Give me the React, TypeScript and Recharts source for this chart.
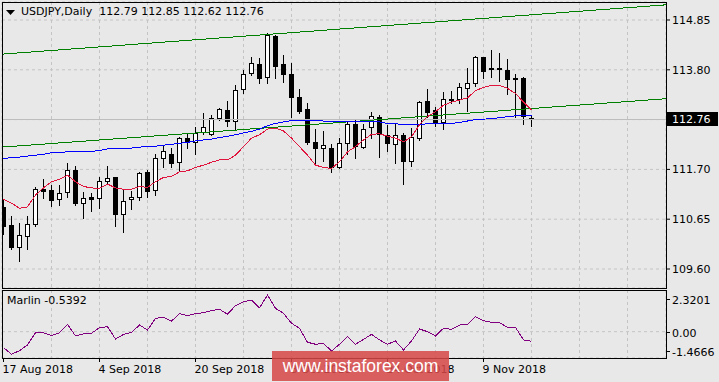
import React from 'react'
import { ComposedChart, Bar, Line, XAxis, YAxis, CartesianGrid, ReferenceLine } from 'recharts'

// USDJPY daily candles, 17 Aug 2018 .. 19 Nov 2018 (bar index 0..66)
const opens = [
  110.91, 110.53, 110.06, 110.3, 110.55, 111.29, 111.27, 111.08, 111.22, 111.69,
  110.99, 111.12, 111.1, 111.46, 111.54, 110.76, 111.08, 111.12, 111.65, 111.27,
  111.94, 112.02, 111.86, 112.36, 112.28, 112.49, 112.45, 112.78, 112.95, 112.72,
  113.4, 113.73, 113.92, 113.65, 114.51, 113.92, 113.71, 113.23, 112.97, 112.28,
  112.15, 112.15, 111.75, 112.26, 112.66, 112.17, 112.59, 112.8, 112.43, 112.24,
  112.43, 111.88, 112.36, 113.14, 112.95, 112.7, 113.18, 113.18, 113.42, 113.52,
  114.07, 113.84, 113.84, 113.8, 113.63, 113.63, 112.79,
]
const highs = [
  111.06, 110.72, 110.57, 110.72, 111.33, 111.5, 111.37, 111.37, 111.84, 111.77,
  111.22, 111.2, 111.54, 111.77, 111.55, 111.29, 111.25, 111.65, 111.69, 112.02,
  112.21, 112.15, 112.38, 112.45, 112.59, 112.89, 112.85, 112.99, 113.14, 113.48,
  113.8, 114.07, 114.05, 114.58, 114.53, 114.11, 113.94, 113.4, 113.1, 112.55,
  112.51, 112.24, 112.36, 112.7, 112.74, 112.66, 112.91, 112.85, 112.64, 112.68,
  112.47, 112.57, 113.14, 113.4, 113.02, 113.33, 113.35, 113.52, 113.84, 114.09,
  114.08, 114.22, 114.15, 114.03, 113.71, 113.64, 112.85,
]
const lows = [
  110.34, 110.02, 109.77, 110.02, 110.51, 111.1, 110.93, 110.95, 111.12, 110.95,
  110.68, 110.82, 110.89, 111.39, 110.51, 110.38, 110.87, 111.06, 111.12, 111.16,
  111.75, 111.75, 111.67, 112.15, 112.02, 112.45, 112.43, 112.74, 112.62, 112.55,
  113.31, 113.69, 113.52, 113.52, 113.63, 113.54, 112.8, 112.89, 112.24, 111.84,
  111.88, 111.65, 111.73, 112.02, 111.94, 112.15, 112.36, 111.96, 112.09, 111.84,
  111.39, 111.77, 112.32, 112.8, 112.62, 112.55, 113.1, 113.1, 112.93, 113.46,
  113.63, 113.65, 113.56, 113.29, 112.8, 112.66, 112.62,
]
const closes = [
  110.51, 110.06, 110.32, 110.55, 111.29, 111.25, 111.06, 111.2, 111.69, 110.99,
  111.1, 111.08, 111.46, 111.52, 110.76, 111.03, 111.12, 111.62, 111.25, 111.94,
  112.09, 111.84, 112.36, 112.28, 112.47, 112.59, 112.78, 112.97, 112.72, 113.37,
  113.71, 113.94, 113.63, 114.53, 113.88, 113.71, 113.23, 112.93, 112.28, 112.15,
  112.21, 111.75, 112.26, 112.66, 112.19, 112.55, 112.83, 112.45, 112.26, 112.43,
  111.88, 112.38, 113.12, 112.91, 112.7, 113.18, 113.16, 113.44, 113.52, 114.07,
  113.77, 113.82, 113.82, 113.61, 113.61, 112.83, 112.76,
]
// red moving average
const fastMA = [
  111.07, 110.99, 110.88, 110.91, 111.16, 111.31, 111.44, 111.49, 111.58, 111.44,
  111.34, 111.31, 111.3, 111.39, 111.31, 111.28, 111.28, 111.34, 111.32, 111.44,
  111.53, 111.55, 111.65, 111.67, 111.74, 111.79, 111.85, 111.9, 111.9, 112.0,
  112.18, 112.36, 112.43, 112.55, 112.57, 112.51, 112.36, 112.18, 112.0, 111.79,
  111.74, 111.72, 111.86, 112.07, 112.18, 112.32, 112.44, 112.45, 112.4, 112.36,
  112.28, 112.39, 112.64, 112.81, 112.92, 113.05, 113.12, 113.16, 113.21, 113.36,
  113.43, 113.47, 113.47, 113.41, 113.3, 113.12, 112.95,
]
// blue moving average
const slowMA = [
  111.93, 111.95, 111.96, 111.98, 112.0, 112.02, 112.05, 112.06, 112.07, 112.08,
  112.08, 112.08, 112.1, 112.13, 112.14, 112.15, 112.15, 112.17, 112.18, 112.19,
  112.21, 112.23, 112.25, 112.27, 112.3, 112.32, 112.34, 112.37, 112.4, 112.43,
  112.47, 112.5, 112.55, 112.62, 112.67, 112.7, 112.73, 112.73, 112.73, 112.73,
  112.72, 112.72, 112.72, 112.71, 112.71, 112.71, 112.71, 112.7, 112.67, 112.66,
  112.65, 112.64, 112.65, 112.66, 112.66, 112.66, 112.67, 112.69, 112.72, 112.75,
  112.76, 112.77, 112.79, 112.81, 112.83, 112.83, 112.83,
]
const marlin = [
  -0.89, -1.26, -1.06, -0.74, -0.06, -0.06, -0.22, -0.06, 0.41, -0.24,
  -0.13, -0.09, 0.22, 0.28, -0.41, -0.15, -0.04, 0.37, 0.09, 0.74,
  0.8, 0.59, 1.0, 0.89, 1.0, 1.06, 1.17, 1.25, 0.97, 1.45,
  1.67, 1.76, 1.33, 2.04, 1.3, 1.02, 0.47, 0.19, -0.59, -0.7,
  -0.65, -1.08, -0.7, -0.28, -0.7, -0.43, -0.15, -0.46, -0.7, -0.52,
  -1.02, -0.52, 0.15, 0.0, -0.24, 0.19, 0.13, 0.37, 0.41, 0.83,
  0.61, 0.52, 0.5, 0.24, 0.24, -0.46, -0.5392,
]

// trend channel end points (bar index, price)
const channelX = [-0.1875, 82.8125]
const channelUpper = [114.13, 115.17]
const channelLower = [112.17, 113.19]

const lastPrice = 112.76
const priceTicks = [109.6, 110.65, 111.7, 112.75, 113.8, 114.85]
const priceDomain = [109.1994, 115.2295]
const marlinTicks = [-1.4666, 0, 2.3201]
const marlinLabels = ['-1.4666', '0.00', '2.3201']
const gridTicks = [6, 12, 18, 24, 30, 36, 42, 48, 54, 60, 66, 72, 78]
const dateTicks = [0, 12, 24, 36, 48, 60]
const dateLabels = ['17 Aug 2018', '4 Sep 2018', '20 Sep 2018', '8 Oct 2018', '24 Oct 2018', '9 Nov 2018']

const xDomain = [channelX[0], channelX[1]]
const FONT = '"DejaVu Sans", Verdana, sans-serif'
const BG = '#e8e8e8'
const GRID = '#c4c4c4'

const bars = opens.map((o, i) => ({
  i,
  open: o,
  high: highs[i],
  low: lows[i],
  close: closes[i],
  fast: fastMA[i],
  slow: slowMA[i],
  marlin: marlin[i],
}))

const Candle = (props: any) => {
  const { x, y, width, height, payload } = props
  if (!payload) return null
  const { open, close, high, low } = payload
  const cx = Math.floor(x + width / 2) + 0.5
  const span = high - low
  const toY = (v: number) => (span === 0 ? y : y + ((high - v) / span) * height)
  const top = Math.round(toY(Math.max(open, close))) + 0.5
  const bottom = Math.round(toY(Math.min(open, close))) + 0.5
  const up = close >= open
  return (
    <g shapeRendering="crispEdges">
      <line x1={cx} x2={cx} y1={Math.round(y)} y2={Math.round(y + height) + 1} stroke="#000" strokeWidth={1} />
      <rect
        x={cx - 2}
        y={top}
        width={4}
        height={Math.max(bottom - top, 1)}
        fill={up ? '#fff' : '#000'}
        stroke="#000"
        strokeWidth={1}
      />
    </g>
  )
}

const PriceTick = (props: any) => {
  const { x, y, payload } = props
  if (Math.abs(payload.value - 112.75) < 0.001) return null
  return (
    <text x={x} y={y} dy={4} fontSize={11} fontFamily={FONT} fill="#000">
      {payload.value.toFixed(2)}
    </text>
  )
}

const MarlinTick = (props: any) => {
  const { x, y, index } = props
  const shift = index === 2 ? 9 : index === 0 ? -7 : 0
  const yy = Math.round(y + shift) + 0.5
  return (
    <g>
      <line x1={x - 6} x2={x - 2} y1={yy} y2={yy} stroke="#000" />
      <text x={x} y={yy} dy={4} fontSize={11} fontFamily={FONT} fill="#000">
        {marlinLabels[index]}
      </text>
    </g>
  )
}

const DateTick = (props: any) => {
  const { x, y, index } = props
  const xx = Math.floor(x) + 0.5
  return (
    <g>
      <line x1={xx} x2={xx} y1={y - 6} y2={y - 2} stroke="#000" />
      <text x={xx - 1} y={y + 9} fontSize={11} fontFamily={FONT} fill="#000">
        {dateLabels[index]}
      </text>
    </g>
  )
}

const LastPriceLabel = (props: any) => {
  const vb = props.viewBox || {}
  const left = vb.x + vb.width + 1
  const cy = Math.round(vb.y)
  return (
    <g>
      <rect x={left} y={cy - 7} width={51} height={14} fill="#000" />
      <text x={left + 5} y={cy} dy={4} fontSize={11} fontFamily={FONT} fill="#fff">
        {lastPrice.toFixed(2)}
      </text>
    </g>
  )
}

const frame = (left: number, top: number, w: number, h: number): React.CSSProperties => ({
  position: 'absolute',
  left,
  top,
  width: w,
  height: h,
  border: '1px solid #000',
  boxSizing: 'border-box',
  pointerEvents: 'none',
})

export default function App() {
  return (
    <div style={{ position: 'absolute', left: 0, top: 0, width: 719, height: 382, background: BG, overflow: 'hidden', fontFamily: FONT }}>
      <div style={{ position: 'absolute', left: 0, top: 0 }}>
        <ComposedChart width={719} height={290} data={bars} margin={{ top: 2, right: 0, bottom: 2, left: 2 }}>
          <CartesianGrid strokeDasharray="3 3" stroke={GRID} />
          <XAxis dataKey="i" type="number" domain={xDomain} ticks={gridTicks} hide allowDataOverflow />
          <YAxis
            orientation="right"
            width={53}
            domain={priceDomain}
            ticks={priceTicks}
            interval={0}
            allowDataOverflow
            axisLine={false}
            tickSize={4}
            tickMargin={2}
            tickLine={{ stroke: '#000' }}
            tick={<PriceTick />}
          />
          <ReferenceLine y={lastPrice} stroke="#bdbdbd" shapeRendering="crispEdges" label={(p: any) => <LastPriceLabel {...p} />} />
          <ReferenceLine
            segment={[{ x: channelX[0], y: channelUpper[0] }, { x: channelX[1], y: channelUpper[1] }]}
            stroke="#008000"
            shapeRendering="crispEdges"
            ifOverflow="visible"
          />
          <ReferenceLine
            segment={[{ x: channelX[0], y: channelLower[0] }, { x: channelX[1], y: channelLower[1] }]}
            stroke="#008000"
            shapeRendering="crispEdges"
            ifOverflow="visible"
          />
          <Bar dataKey={(d: any) => [d.low, d.high]} shape={<Candle />} barSize={5} isAnimationActive={false} />
          <Line type="linear" dataKey="slow" stroke="#0000ff" strokeWidth={1} shapeRendering="crispEdges" dot={false} activeDot={false} isAnimationActive={false} />
          <Line type="linear" dataKey="fast" stroke="#e0143c" strokeWidth={1} shapeRendering="crispEdges" dot={false} activeDot={false} isAnimationActive={false} />
        </ComposedChart>
      </div>

      <div style={{ position: 'absolute', left: 0, top: 290 }}>
        <ComposedChart width={719} height={92} data={bars} margin={{ top: 0, right: 0, bottom: 0, left: 2 }}>
          <CartesianGrid strokeDasharray="3 3" stroke={GRID} xAxisId="grid" />
          <XAxis xAxisId="grid" dataKey="i" type="number" domain={xDomain} ticks={gridTicks} hide allowDataOverflow />
          <XAxis
            xAxisId="dates"
            dataKey="i"
            type="number"
            domain={xDomain}
            ticks={dateTicks}
            interval={0}
            height={24}
            allowDataOverflow
            axisLine={false}
            tickLine={false}
            tickSize={4}
            tickMargin={2}
            tick={<DateTick />}
          />
          <YAxis
            orientation="right"
            width={53}
            domain={[marlinTicks[0], marlinTicks[2]]}
            ticks={marlinTicks}
            interval={0}
            allowDataOverflow
            axisLine={false}
            tickLine={false}
            tickSize={4}
            tickMargin={2}
            tick={<MarlinTick />}
          />
          <Line xAxisId="dates" type="linear" dataKey="marlin" stroke="#800080" strokeWidth={1} shapeRendering="crispEdges" dot={false} activeDot={false} isAnimationActive={false} />
        </ComposedChart>
      </div>

      <div style={frame(2, 2, 665, 287)} />
      <div style={frame(2, 290, 665, 69)} />

      <svg style={{ position: 'absolute', left: 6, top: 10 }} width={10} height={6}>
        <polygon points="0,0 9,0 4.5,5" fill="#000" />
      </svg>
      <div style={{ position: 'absolute', left: 21, top: 5, fontSize: 11, color: '#000', whiteSpace: 'pre', lineHeight: '14px' }}>
        {'USDJPY,Daily  112.79 112.85 112.62 112.76'}
      </div>
      <div style={{ position: 'absolute', left: 7, top: 294, fontSize: 11, color: '#000', whiteSpace: 'pre', lineHeight: '14px' }}>
        {'Marlin -0.5392'}
      </div>

      <div
        style={{
          position: 'absolute',
          left: 272,
          top: 351,
          width: 177,
          height: 30,
          background: 'rgba(214, 72, 72, 0.86)',
          color: '#fff',
          fontFamily: '"Liberation Sans", Arial, sans-serif',
          fontSize: 17.5,
          lineHeight: '30px',
          textAlign: 'center',
        }}
      >
        www.instaforex.com
      </div>
    </div>
  )
}
